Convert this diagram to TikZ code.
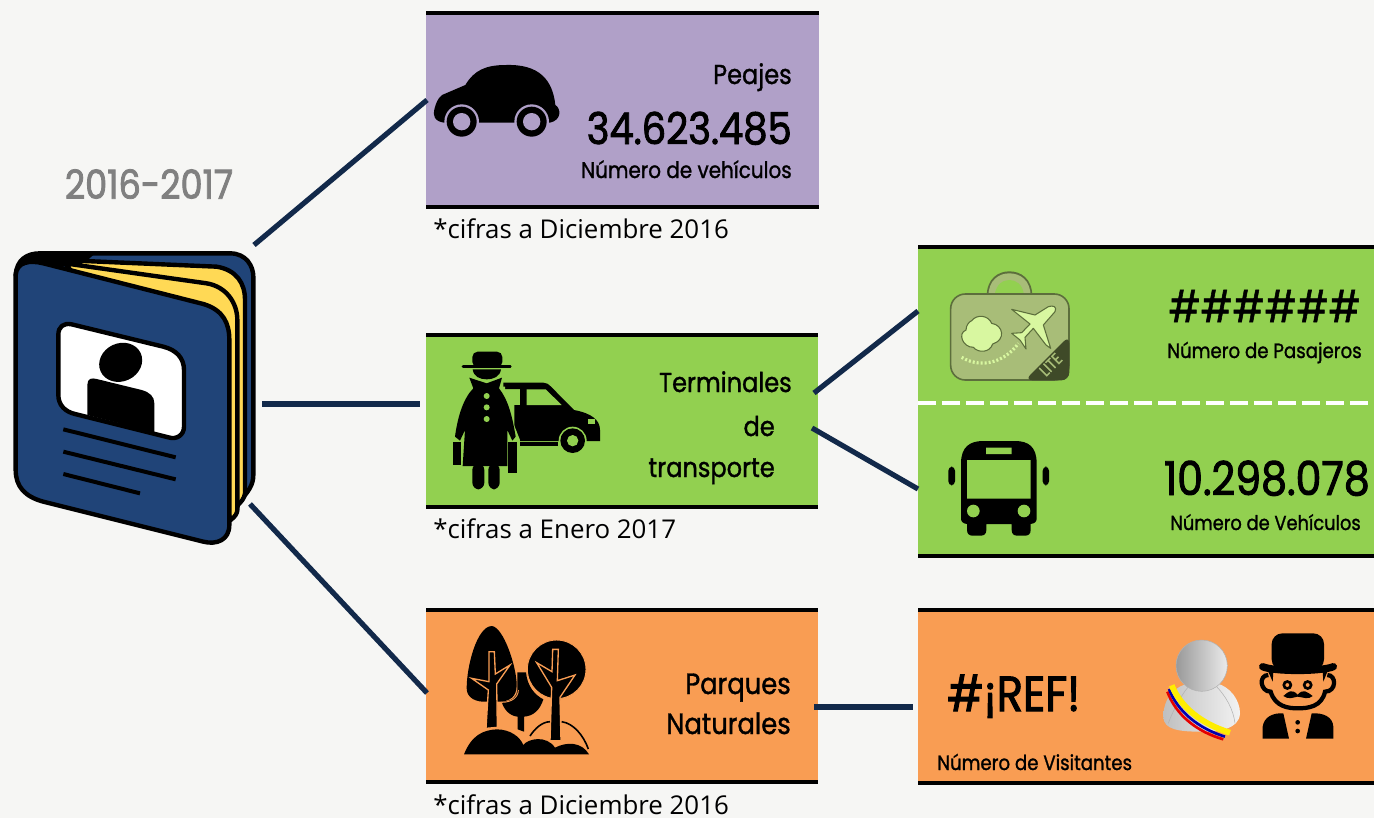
\documentclass[tikz,border=0pt]{standalone}
\usepackage{fontspec}
\setmainfont{Poppins}
\newfontfamily\tw{Poppins}[FakeStretch=0.88,FakeBold=1.2]
\newfontfamily\twbig{Poppins}[FakeStretch=0.88,FakeBold=2]
\newfontfamily\cifrafont{Open Sans}
\usetikzlibrary{calc}
\definecolor{bg}{HTML}{F6F6F4}
\definecolor{lila}{HTML}{B0A0C8}
\definecolor{verde}{HTML}{92D050}
\definecolor{naranja}{HTML}{F99D53}
\definecolor{linea}{HTML}{12294A}
\definecolor{azul}{HTML}{204478}
\definecolor{amarillo}{HTML}{FFD955}
\definecolor{maleta}{HTML}{A8BD78}
\definecolor{maletaborde}{HTML}{5C6E3C}
\definecolor{maletaosc}{HTML}{3F4A28}
\definecolor{claro}{HTML}{D8F7A0}
\tikzset{
  conn/.style={draw=linea,line width=3.9pt},
  bar/.style={draw=black,line width=3pt},
  lab/.style={inner sep=0pt,anchor=base east,text=black},
  labw/.style={inner sep=0pt,anchor=base west,text=black},
  cifra/.style={inner sep=0pt,anchor=base west,font=\cifrafont\fontsize{19.4}{19.4}\selectfont,text=black},
  bk/.style={line width=3.3pt,draw=black,line join=round},
  icon/.style={x=.25pt,y=-.25pt,shift={(#1)}},
}
\newcommand{\fs}[1]{\tw\fontsize{#1}{#1}\selectfont}
\newcommand{\fb}[1]{\twbig\fontsize{#1}{#1}\selectfont}
\newcommand{\panelbox}[6]{% name x1 y1 x2 y2 colour
  \fill[#6] (#2,#3) rectangle (#4,#5);
  \node[inner sep=0pt,minimum width={(#4-#2)*.75pt},minimum height={(#5-#3)*.75pt},rectangle] (#1) at ({(#2+#4)/2},{(#3+#5)/2}) {};
  \draw[bar] (#2,#3) -- (#4,#3);
  \draw[bar] (#2,#5) -- (#4,#5);
}
\begin{document}
\begin{tikzpicture}[x=.75pt,y=-.75pt]
\useasboundingbox[fill=bg] (0,0) rectangle (1374,818);

% panels
\panelbox{peajes}{426}{13}{819}{207}{lila}
\panelbox{terminales}{426}{335}{818}{507}{verde}
\panelbox{aereo}{918}{247}{1374}{556}{verde}
\panelbox{parques}{426}{610}{818}{782}{naranja}
\panelbox{visitas}{918}{610}{1374}{783}{naranja}

\draw[white,line width=3pt,dash pattern=on 13.5pt off 4.5pt] (918,403) -- (1374,403);

% book
\begin{scope}[icon={0,690}]
  \draw[bk,fill=azul] (47,135) .. controls (50,90) and (80,70) .. (120,70) -- (690,70) .. controls (740,70) and (760,110) .. (760,140) -- (760,735) .. controls (760,765) and (745,785) .. (718,815) -- (700,860) -- (300,400) -- cycle;
  \fill[black] (47,135) .. controls (50,90) and (80,70) .. (120,70) -- (280,75) -- (240,110) -- (130,105) -- cycle;
  \draw[bk,fill=amarillo] (230,92) -- (650,110) .. controls (710,120) and (735,160) .. (735,210) -- (735,790) .. controls (733,805) and (725,815) .. (708,830) -- (600,500) -- cycle;
  \draw[bk,fill=amarillo] (195,100) -- (620,160) .. controls (680,170) and (712,220) .. (712,270) -- (712,840) .. controls (712,850) and (705,860) .. (692,870) -- (600,600) -- cycle;
  \draw[bk,fill=azul] (47,135) .. controls (50,95) and (90,90) .. (130,100) -- (610,222) .. controls (670,240) and (688,280) .. (688,330) -- (688,885) .. controls (688,930) and (650,945) .. (610,935) -- (130,815) .. controls (75,800) and (47,770) .. (47,720) -- cycle;
  \draw[bk,fill=white] (175,315) .. controls (175,290) and (190,278) .. (215,283) -- (490,350) .. controls (530,360) and (552,385) .. (552,420) -- (552,590) .. controls (552,615) and (530,630) .. (505,622) -- (225,552) .. controls (195,545) and (175,525) .. (175,495) -- cycle;
  \fill[black,rotate around={25:(362,397)}] (362,397) ellipse (66 and 57);
  \fill[black] (262,555) -- (262,465) .. controls (262,445) and (275,443) .. (290,447) -- (425,480) .. controls (450,487) and (463,500) .. (463,520) -- (463,607) -- cycle;
  \draw[black,line width=3pt] (190,598) -- (527,682) (190,665) -- (527,748) (190,732) -- (420,790);
\end{scope}

% car (peajes)
\begin{scope}[icon={1278,150}]
  \fill[black] (25,178) .. controls (30,160) and (35,145) .. (48,135) -- (118,105) .. controls (145,60) and (180,45) .. (240,45) .. controls (340,42) and (380,90) .. (388,165) .. controls (405,175) and (408,210) .. (372,218) -- (55,218) .. controls (25,215) and (20,195) .. (25,178) -- cycle;
  \foreach \cx in {107,317}{
    \fill[lila] (\cx,215) circle (52);
    \fill[black] (\cx,215) circle (45);
    \fill[lila] (\cx,215) circle (26);
  }
\end{scope}

% man and car (terminales)
\begin{scope}[icon={1275,990}]
  \fill[black] (235,158) -- (355,158) .. controls (365,158) and (372,163) .. (378,170) -- (447,240) .. controls (500,250) and (525,270) .. (525,300) -- (525,333) -- (285,333) -- (268,333) -- (268,225) -- (285,225) -- (285,177) -- (235,177) -- cycle;
  \fill[verde] (305,178) -- (362,178) -- (410,225) -- (305,225) -- cycle;
  \fill[verde] (490,268) rectangle (510,283);
  \fill[black] (285,337) rectangle (398,349);
  \fill[verde] (443,332) circle (42);
  \fill[black] (443,332) circle (37);
  \fill[verde] (443,332) circle (17);
  % figure
  \fill[verde] (222,170) -- (285,330) -- (280,440) -- (240,440) -- (240,170) -- cycle;
  \fill[black,rounded corners=4pt] (142,112) -- (142,65) -- (232,65) -- (232,112) -- cycle;
  \draw[black,line width=2pt,line cap=round] (114,110) -- (256,110);
  \fill[black] (143,118) -- (228,118) .. controls (225,140) and (205,148) .. (185,148) .. controls (165,148) and (146,140) .. (143,118) -- cycle;
  \fill[black] (133,143) -- (185,160) -- (231,143) -- (222,175) .. controls (250,210) and (262,260) .. (272,320) -- (262,332) -- (247,300) -- (247,408) -- (113,408) -- (120,300) -- (105,332) -- (90,320) .. controls (98,260) and (115,205) .. (145,175) -- cycle;
  \fill[verde] (185,198) circle (9) (185,232) circle (9) (185,267) circle (9);
  \fill[black,rounded corners=5pt] (142,400) rectangle (178,478);
  \fill[black,rounded corners=5pt] (190,400) rectangle (224,478);
  \fill[black] (84,335) rectangle (108,405);
  \fill[black] (250,335) rectangle (275,430);
\end{scope}

% luggage
\begin{scope}[icon={2760,750}]
  \fill[maletaborde] (200,140) .. controls (200,85) and (235,64) .. (268,64) .. controls (302,64) and (337,85) .. (337,140) -- cycle;
  \fill[maleta] (205,140) .. controls (205,90) and (237,70) .. (268,70) .. controls (300,70) and (332,90) .. (332,140) -- cycle;
  \fill[verde] (224,135) .. controls (228,102) and (250,90) .. (268,90) .. controls (288,90) and (308,102) .. (312,135) -- cycle;
  \draw[draw=maletaborde,line width=1.2pt,fill=maleta,rounded corners=11pt] (92,132) rectangle (447,390);
  \fill[maletaosc,rounded corners=6pt] (448,257) -- (448,391) -- (314,391) -- cycle;
  \node[rotate=45,text=maleta,inner sep=0pt,font=\fs{12}] (lite) at (392,344) {LITE};
  \draw[draw=maletaborde,line width=.8pt,fill=claro] (155,212) .. controls (170,192) and (205,195) .. (215,220) .. controls (250,225) and (258,270) .. (218,282) .. controls (210,308) and (175,310) .. (160,292) .. controls (128,292) and (112,250) .. (138,240) .. controls (138,225) and (148,215) .. (155,212) -- cycle;
  \draw[claro,line width=2.4pt,dash pattern=on 1.5pt off 1.5pt] (125,322) .. controls (190,360) and (260,330) .. (295,280);
  \draw[draw=maletaborde,line width=.8pt,fill=claro,line join=round] (275,178) -- (345,195) -- (385,170) .. controls (400,165) and (412,170) .. (405,185) -- (370,225) -- (392,295) -- (378,285) -- (340,235) -- (315,262) -- (318,297) -- (300,270) -- (275,250) -- (305,248) -- (330,222) -- cycle;
\end{scope}

% bus
\begin{scope}[icon={2760,750}]
  \fill[black] (123,640) .. controls (123,590) and (150,573) .. (190,573) -- (285,573) .. controls (325,573) and (350,590) .. (350,640) -- (350,805) .. controls (350,815) and (345,820) .. (332,822) -- (332,840) .. controls (332,852) and (325,857) .. (315,857) -- (292,857) .. controls (282,857) and (275,852) .. (275,840) -- (275,822) -- (199,822) -- (199,840) .. controls (199,852) and (192,857) .. (182,857) -- (158,857) .. controls (148,857) and (141,852) .. (141,840) -- (141,822) .. controls (128,820) and (123,815) .. (123,805) -- cycle;
  \fill[verde] (141,630) rectangle (332,746) (198,593) rectangle (275,612);
  \fill[verde] (160,783) circle (19) (312,783) circle (19);
  \fill[black,rounded corners=3pt] (85,650) rectangle (105,706);
  \fill[black,rounded corners=3pt] (368,650) rectangle (387,706);
\end{scope}

% trees
\begin{scope}[icon={1320,1830}]
  \fill[black] (185,275) .. controls (215,275) and (232,260) .. (232,240) -- (232,187) -- (258,187) .. controls (262,230) and (285,255) .. (310,268) .. controls (300,300) and (280,318) .. (252,320) -- (252,365) -- (233,358) -- (233,320) .. controls (210,318) and (192,300) .. (185,275) -- cycle;
  \draw[naranja,line width=.7pt] (185,277) .. controls (215,277) and (235,262) .. (235,240);
  \fill[black] (155,48) .. controls (110,50) and (80,170) .. (80,235) .. controls (80,265) and (110,277) .. (140,275) -- (175,275) .. controls (210,275) and (230,260) .. (230,225) .. controls (230,170) and (190,50) .. (155,48) -- cycle;
  \draw[naranja,line width=1pt,fill=black,line join=miter] (147,125) -- (163,125) -- (166,192) -- (210,165) -- (170,222) -- (172,352) -- (138,355) -- (145,240) -- (95,205) -- (147,215) -- cycle;
  \draw[naranja,line width=.7pt,fill=black] (350,178) circle (88);
  \draw[naranja,line width=1pt,fill=black,line join=miter] (338,118) -- (355,118) -- (352,212) -- (405,195) -- (360,262) -- (363,392) -- (330,392) -- (335,232) -- (290,158) -- (336,185) -- cycle;
  \fill[black] (72,433) .. controls (95,375) and (130,360) .. (170,358) .. controls (210,358) and (240,380) .. (250,405) .. controls (265,385) and (320,375) .. (345,413) .. controls (380,395) and (425,395) .. (447,433) -- cycle;
  \draw[black,line width=1.2pt] (270,378) .. controls (295,340) and (320,335) .. (330,335);
  \draw[black,line width=1.2pt] (365,335) .. controls (400,340) and (430,375) .. (445,417);
\end{scope}

% sash man
\begin{scope}[icon={3420,1860}]
  \shade[left color=black!25,right color=black!5] (70,290) .. controls (70,230) and (110,195) .. (150,190) -- (230,190) .. controls (270,200) and (300,240) .. (300,280) .. controls (298,330) and (230,335) .. (185,335) .. controls (120,335) and (70,330) .. (70,290) -- cycle;
  \draw[black!30,line width=.4pt] (150,195) .. controls (125,220) and (95,280) .. (85,310) (225,195) .. controls (260,230) and (280,270) .. (285,310);
  \shade[left color=black!40,right color=black!8,draw=black!30,line width=.4pt] (185,137) circle (77);
  \draw[red!90!black,line width=2pt] (82,215) .. controls (108,285) and (170,335) .. (250,358);
  \draw[blue!70!black,line width=2pt] (87,207) .. controls (113,275) and (175,325) .. (255,350);
  \draw[yellow!95!orange,line width=4.4pt] (95,196) .. controls (122,262) and (185,312) .. (270,338);
\end{scope}

% top hat man
\begin{scope}[icon={3420,1860}]
  \fill[black,rounded corners=8pt] (395,150) -- (395,40) -- (552,40) -- (552,150) -- cycle;
  \draw[black,line width=5.5pt,line cap=round] (368,140) .. controls (400,155) and (545,155) .. (580,140);
  \draw[black,line width=3.2pt] (385,165) .. controls (355,165) and (360,215) .. (392,215) .. controls (405,260) and (445,265) .. (473,265) .. controls (505,265) and (545,260) .. (555,215) .. controls (590,215) and (590,165) .. (562,165);
  \fill[black] (385,155) -- (400,155) -- (398,185) -- cycle (562,155) -- (548,155) -- (550,185) -- cycle;
  \draw[black,line width=2pt] (442,195) circle (10.5) (503,195) circle (10.5);
  \fill[black] (473,224) .. controls (455,205) and (445,215) .. (430,228) .. controls (445,240) and (460,232) .. (473,230) .. controls (490,232) and (505,240) .. (518,228) .. controls (500,215) and (490,205) .. (473,224) -- cycle;
  \fill[black] (368,356) -- (368,320) .. controls (372,290) and (400,278) .. (430,280) -- (447,356) -- cycle;
  \fill[black] (498,356) -- (515,280) .. controls (550,278) and (578,290) .. (580,320) -- (580,356) -- cycle;
  \fill[black] (473,307) circle (7) (473,333) circle (7);
\end{scope}

% connectors
\coordinate (b1) at (254,245);
\coordinate (b2) at (262,404);
\coordinate (b3) at (250,504);
\coordinate (p1) at (427,100);
\coordinate (t1) at (420,404);
\coordinate (n1) at (427,693);
\coordinate (t2) at (814,393);
\coordinate (t3) at (812,428);
\coordinate (a1) at (918,311);
\coordinate (a2) at (918,489);
\coordinate (n2) at (814,707);
\coordinate (v1) at (913,707);
\draw[conn] (b1) -- (p1);
\draw[conn] (b2) -- (t1);
\draw[conn] (b3) -- (n1);
\draw[conn] (t2) -- (a1);
\draw[conn] (t3) -- (a2);
\draw[conn] (n2) -- (v1);

% texts
\node[inner sep=0pt,text=black!50,font=\fb{30}] (anio) at (149,184) {2016-2017};
\node[lab,font=\fs{20.5}] (t-peajes) at (792,84) {Peajes};
\node[lab,font=\fb{32.8}] (t-num1) at (792,144) {34.623.485};
\node[lab,font=\fs{17}] (t-veh) at (792,178) {Número de vehículos};
\node[cifra] (c1) at (433,238) {*cifras a Diciembre 2016};
\node[lab,font=\fs{20.5}] (t-term) at (792,392) {Terminales};
\node[lab,font=\fs{20.5}] (t-de) at (775,436) {de};
\node[lab,font=\fs{20.5}] (t-trans) at (775,477) {transporte};
\node[cifra] (c2) at (433,538) {*cifras a Enero 2017};
\node[lab,font=\fs{32.5}] (t-hash) at (1361,322) {\#\#\#\#\#\#};
\node[lab,font=\fs{15.5}] (t-pas) at (1362,358) {Número de Pasajeros};
\node[lab,font=\fb{35}] (t-num2) at (1370,495) {10.298.078};
\node[lab,font=\fs{15.2}] (t-veh2) at (1361,530) {Número de Vehículos};
\node[lab,font=\fs{22}] (t-par) at (791,694) {Parques};
\node[lab,font=\fs{22}] (t-nat) at (791,734) {Naturales};
\node[labw,font=\fb{37}] (t-ref) at (947,711) {\#¡REF!};
\node[labw,font=\fs{15.5}] (t-vis) at (937,770) {Número de Visitantes};
\node[cifra] (c3) at (433,814) {*cifras a Diciembre 2016};
\end{tikzpicture}
\end{document}
